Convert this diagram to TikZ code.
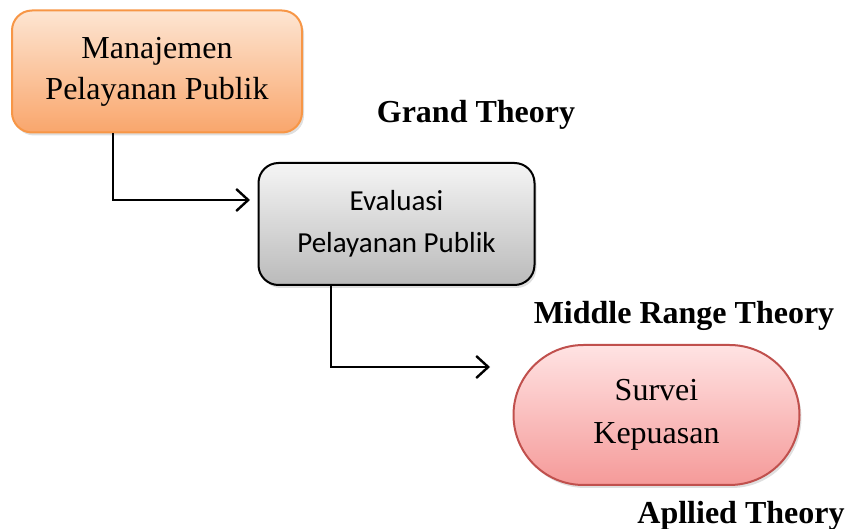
\documentclass[tikz,border=0pt]{standalone}
\usepackage{fontspec}
\setmainfont{Liberation Serif}
\newfontfamily\calibrifont{Carlito}
\usetikzlibrary{arrows.meta,positioning,shapes.misc,shadows}
\definecolor{orangeline}{HTML}{F79646}
\definecolor{orangetop}{HTML}{FDE5D2}
\definecolor{orangebot}{HTML}{F9A66C}
\definecolor{redline}{HTML}{C0504D}
\definecolor{redtop}{HTML}{FFE3E3}
\definecolor{redbot}{HTML}{F59A99}
\tikzset{
box/.style={draw,line width=1pt,rounded corners=10pt,align=center,
  minimum width=145pt,minimum height=61pt,inner sep=0pt,
  drop shadow={shadow xshift=1pt,shadow yshift=-1.5pt,opacity=.25}},
theory/.style={font=\fontsize{16}{19}\selectfont\bfseries},
arr/.style={-{Straight Barb[length=6pt,width=11pt,line width=1.2pt]},line width=1.2pt,draw=black}
}
\begin{document}
\begin{tikzpicture}[x=0.5pt,y=-0.5pt]
\useasboundingbox (0,0) rectangle (847,529);
\node[box,draw=orangeline,top color=orangetop,bottom color=orangebot,
  font=\fontsize{16}{20.5}\selectfont] (mgmt) at (157,71.5)
  {Manajemen\\Pelayanan Publik};
\node[box,draw=black,top color=black!4,bottom color=black!27,minimum width=138pt,
  font=\calibrifont\fontsize{14.5}{21}\selectfont] (eval) at (396.5,224)
  {Evaluasi\\Pelayanan Publik};
\node[box,rounded rectangle,rounded corners=0pt,draw=redline,top color=redtop,bottom color=redbot,
  minimum width=143pt,minimum height=70pt,
  font=\fontsize{16}{21.5}\selectfont] (survei) at (656.5,415)
  {Survei\\Kepuasan};
\node[theory] (grand) at (476,115) {Grand Theory};
\node[theory] (middle) at (684,316) {Middle Range Theory};
\node[theory] (applied) at (741,516) {Apllied Theory};
% connectors
\coordinate (bend1) at (113,200);
\coordinate (tip1) at (250,200);
\coordinate (bend2) at (331,367);
\coordinate (tip2) at (490,367);
\draw[arr] (mgmt.south -| bend1) -- (bend1) -- (tip1);
\draw[arr] (eval.south -| bend2) -- (bend2) -- (tip2);
\end{tikzpicture}
\end{document}
